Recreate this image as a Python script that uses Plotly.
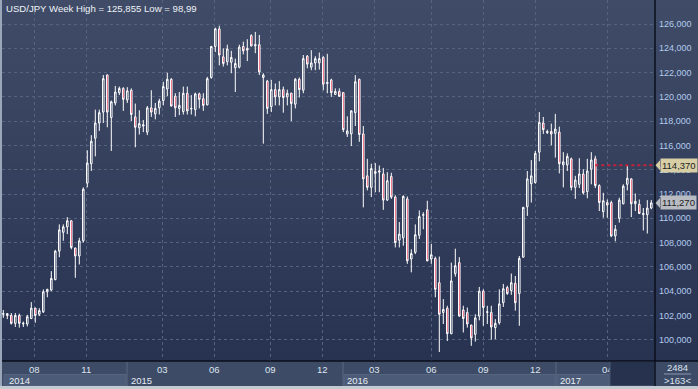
import plotly.graph_objects as go

# ---- weekly OHLC ----
open_ = [102.1, 102.15, 102.0, 101.35, 102.0, 101.3, 101.3, 101.75, 102.6, 102.1,
         102.3, 103.95, 104.1, 104.95, 107.3, 108.85, 109.3, 109.8, 107.55, 106.9,
         108.15, 112.9, 114.5, 116.6, 117.85, 118.75, 121.8, 118.3, 119.5, 120.35,
         120.7, 119.75, 120.55, 118.35, 117.45, 117.6, 117.1, 119.1, 118.6, 119.1,
         119.7, 120.65, 121.45, 120.05, 119.05, 118.8, 120.3, 119.0, 118.95, 120.25,
         119.85, 119.35, 121.6, 124.15, 125.6, 123.3, 122.9, 122.85, 122.4, 122.45,
         124.15, 124.0, 125.05, 124.2, 124.3, 121.6, 121.3, 119.2, 120.6, 120.0,
         120.6, 120.0, 120.3, 119.4, 121.45, 120.55, 123.35, 122.45, 122.8, 122.8,
         123.25, 121.1, 121.4, 120.2, 120.45, 120.35, 116.95, 116.95, 118.7, 121.45,
         116.95, 113.5, 112.55, 113.85, 113.8, 113.65, 111.5, 113.45, 111.75, 108.2,
         108.4, 111.6, 106.65, 107.2, 108.6, 110.25, 110.7, 106.65, 106.7, 104.7,
         102.25, 102.6, 100.5, 105.45, 106.35, 102.45, 102.25, 101.2, 100.45, 101.95,
         104.0, 102.25, 102.25, 101.0, 101.4, 103.05, 104.3, 104.05, 104.65, 103.8,
         106.8, 110.95, 112.85, 112.95, 115.45, 117.85, 117.05, 117.15, 117.0, 117.1,
         114.4, 114.4, 114.9, 112.55, 112.8, 113.65, 112.2, 114.05, 114.9, 112.7,
         110.55, 111.3, 111.3, 108.55, 110.0, 111.2, 112.8, 113.25, 111.2, 111.15,
         110.3, 110.3, 110.85]
high = [102.45, 102.2, 102.2, 102.2, 102.15, 101.5, 102.05, 103.1, 102.65, 102.6,
        104.15, 104.2, 105.65, 107.4, 109.5, 109.5, 110.1, 109.85, 107.6, 108.4,
        112.55, 115.6, 116.85, 118.95, 118.95, 121.8, 121.85, 119.7, 120.9, 120.85,
        120.8, 120.8, 120.7, 119.45, 118.9, 118.1, 119.25, 120.55, 119.5, 119.85,
        121.25, 122.0, 121.55, 120.3, 120.4, 120.85, 120.85, 120.15, 120.35, 120.35,
        120.3, 121.65, 124.2, 125.7, 125.855, 124.0, 124.3, 123.8, 123.15, 124.3,
        124.55, 124.75, 125.15, 125.35, 125.1, 121.95, 121.4, 121.4, 121.1, 121.3,
        120.85, 120.6, 120.35, 121.55, 121.6, 123.45, 123.45, 123.85, 123.35, 123.65,
        123.35, 123.55, 121.5, 120.7, 120.7, 120.4, 118.4, 118.9, 121.8, 121.5,
        117.6, 114.9, 114.5, 114.55, 114.35, 114.15, 113.8, 113.75, 111.9, 109.7,
        111.9, 111.8, 107.45, 109.5, 110.65, 110.5, 111.45, 107.9, 106.85, 106.85,
        103.35, 102.8, 106.35, 107.5, 106.8, 102.8, 102.65, 101.25, 102.1, 104.35,
        104.15, 102.8, 102.8, 101.7, 104.15, 104.6, 104.45, 105.45, 105.25, 106.9,
        110.95, 113.9, 114.8, 115.55, 118.75, 118.35, 117.3, 117.8, 118.6, 117.55,
        115.45, 115.35, 115.0, 113.5, 114.95, 114.05, 114.9, 115.45, 115.15, 112.8,
        112.1, 111.55, 111.45, 109.45, 111.7, 112.8, 114.37, 113.3, 112.05, 111.55,
        110.85, 111.5, 111.5]
low = [101.8, 101.7, 101.25, 101.05, 101.0, 101.05, 101.1, 101.7, 101.4, 101.95,
       102.2, 103.5, 104.0, 104.9, 106.8, 108.15, 108.7, 107.45, 105.1, 106.2,
       108.0, 112.55, 113.9, 115.1, 117.2, 117.85, 117.5, 115.55, 119.3, 120.15,
       118.85, 119.5, 118.0, 115.85, 116.9, 117.1, 116.85, 118.35, 118.15, 118.55,
       119.3, 120.05, 119.2, 118.35, 118.5, 118.55, 118.55, 118.55, 118.4, 119.05,
       118.85, 119.3, 121.5, 123.7, 122.6, 122.5, 122.6, 121.95, 120.4, 122.35,
       123.5, 122.95, 124.15, 123.6, 121.8, 116.15, 118.6, 118.75, 119.3, 119.3,
       118.7, 119.3, 118.0, 119.05, 119.95, 120.3, 122.35, 122.2, 122.2, 122.25,
       120.55, 120.3, 120.0, 120.15, 120.0, 117.1, 116.7, 115.95, 117.6, 116.3,
       110.9, 112.3, 111.75, 112.15, 112.15, 110.7, 111.45, 111.6, 107.6, 107.6,
       107.75, 106.25, 105.55, 107.05, 108.3, 109.1, 106.45, 106.25, 103.5, 98.99,
       101.3, 99.9, 100.45, 105.2, 101.9, 100.6, 101.0, 99.5, 99.85, 101.6,
       101.15, 101.3, 100.0, 100.05, 101.25, 102.7, 103.7, 103.7, 102.4, 101.15,
       106.75, 110.2, 111.3, 112.85, 114.7, 116.95, 116.95, 116.0, 115.0, 113.7,
       112.55, 113.9, 112.3, 111.6, 112.5, 111.95, 111.65, 112.8, 112.5, 110.6,
       110.05, 110.05, 108.45, 108.1, 109.65, 111.15, 112.3, 110.1, 110.6, 110.35,
       109.0, 108.75, 110.75]
close = [102.15, 102.0, 101.35, 102.0, 101.35, 101.35, 101.9, 102.6, 102.0, 102.4,
         103.95, 104.15, 105.05, 107.3, 109.05, 109.3, 109.8, 107.6, 106.9, 108.15,
         112.4, 114.55, 116.35, 117.85, 118.7, 121.5, 118.75, 119.6, 120.4, 120.7,
         119.8, 120.5, 118.55, 117.5, 117.8, 117.7, 119.1, 118.75, 119.05, 119.65,
         120.85, 121.45, 119.25, 119.1, 119.3, 120.3, 118.85, 119.05, 120.25, 119.8,
         119.3, 121.5, 124.15, 125.6, 123.45, 122.75, 123.95, 123.25, 122.75, 124.1,
         123.8, 123.85, 124.2, 124.3, 122.05, 121.8, 119.05, 120.6, 120.0, 120.6,
         119.95, 120.3, 119.45, 121.45, 120.6, 123.15, 122.7, 122.8, 123.15, 123.15,
         121.05, 121.2, 120.35, 120.45, 120.05, 117.3, 117.2, 118.85, 121.25, 116.9,
         113.25, 112.55, 114.1, 113.7, 113.9, 111.5, 113.1, 111.75, 108.0, 108.7,
         111.8, 106.5, 107.1, 108.65, 110.15, 110.3, 106.5, 107.0, 104.15, 102.1,
         102.5, 100.5, 104.85, 106.1, 101.95, 101.75, 101.3, 100.15, 101.8, 104.0,
         102.65, 102.3, 101.05, 101.35, 102.95, 104.2, 103.8, 104.7, 103.05, 106.7,
         110.9, 113.25, 113.5, 115.35, 117.9, 117.3, 117.15, 116.95, 117.35, 114.5,
         114.65, 115.1, 112.55, 113.15, 113.65, 112.1, 113.9, 114.8, 112.7, 111.3,
         111.45, 111.1, 108.55, 109.1, 111.5, 112.65, 113.3, 111.2, 111.4, 110.4,
         110.4, 110.85, 111.27]
week_index = list(range(len(close)))

month_tick_pos = [7.75, 20.75, 39.75, 52.75, 66.75, 79.75, 92.75, 107.0, 120.0, 133.0, 151.0]
month_tick_text = ['08', '11', '03', '06', '09', '12', '03', '06', '09', '12', '04']
year_labels = ['2014', '2015', '2016', '2017']
price_ticks = list(range(100, 127, 2))
price_tick_text = [f"{v},000" for v in price_ticks]
ref_level = max(high[150:])
last_close = close[-1]

W, H = 698, 389
ML, MR, MT, MB = 2, 43, 0, 28
PW, PH = W - ML - MR, H - MT - MB


def px(x):
    return (x - ML) / PW


def py(y):
    return 1 - (y - MT) / PH


def fmt(v):
    return f"{v:.3f}".replace('.', ',')


fig = go.Figure(go.Candlestick(
    x=week_index, open=open_, high=high, low=low, close=close,
    increasing=dict(line=dict(color='#ffffff', width=1), fillcolor='rgba(0,0,0,0)'),
    decreasing=dict(line=dict(color='#ffffff', width=1), fillcolor='#e3173f'),
    whiskerwidth=0, hoverinfo='skip', showlegend=False))

shapes = []
# background gradient
N = 40
top, bot = (64, 76, 103), (40, 51, 82)
for k in range(N):
    t = k / (N - 1)
    c = tuple(round(top[j] + (bot[j] - top[j]) * t) for j in range(3))
    shapes.append(dict(type='rect', xref='paper', yref='paper', layer='below',
                       x0=px(0), x1=px(W), y0=1 - k / N, y1=1 - (k + 1) / N - 0.002,
                       fillcolor='rgb(%d,%d,%d)' % c, line_width=0))
# bottom strip
shapes.append(dict(type='rect', xref='paper', yref='paper', layer='below',
                   x0=px(0), x1=px(W), y0=py(361), y1=py(386), fillcolor='#3d4b67', line_width=0))
for x0, x1 in [(4, 126), (344, 555), (557, 609)]:
    shapes.append(dict(type='rect', xref='paper', yref='paper', layer='below',
                       x0=px(x0), x1=px(x1), y0=py(374.5), y1=py(386), fillcolor='#4c5b77',
                       line=dict(color='#56657f', width=1)))
for xs in [127, 343, 556]:
    shapes.append(dict(type='line', xref='paper', yref='paper', layer='below',
                       x0=px(xs), x1=px(xs), y0=py(361), y1=py(386), line=dict(color='#5a6884', width=1)))
# scroll thumb region
shapes.append(dict(type='rect', xref='paper', yref='paper', layer='above',
                   x0=px(610), x1=px(655), y0=py(361.5), y1=py(386), fillcolor='#27324e',
                   line=dict(color='#4a5874', width=1)))
# borders
shapes.append(dict(type='rect', xref='paper', yref='paper', layer='above',
                   x0=px(0), x1=px(W), y0=py(386), y1=py(H), fillcolor='#c4cad2', line_width=0))
shapes.append(dict(type='rect', xref='paper', yref='paper', layer='above',
                   x0=px(0), x1=px(2), y0=py(0), y1=py(386), fillcolor='#9aa7ba', line_width=0))
shapes.append(dict(type='line', xref='paper', yref='paper', layer='above',
                   x0=px(2), x1=px(W), y0=py(361), y1=py(361), line=dict(color='#0a0f1a', width=1.5)))
shapes.append(dict(type='line', xref='paper', yref='paper', layer='above',
                   x0=px(655), x1=px(655), y0=py(0), y1=py(386), line=dict(color='#0a0f1a', width=1.5)))
# right-bottom box separator
shapes.append(dict(type='line', xref='paper', yref='paper', layer='above',
                   x0=px(664), x1=px(691), y0=py(374), y1=py(374), line=dict(color='#8a98b0', width=1)))
# reference level dotted line
shapes.append(dict(type='line', xref='x', yref='y', layer='above',
                   x0=148, x1=week_index[-1] + 0.9, y0=ref_level, y1=ref_level,
                   line=dict(color='#c8203a', width=2, dash='dot')))
# price label pointers
u = 5 / 12.14
for lvl, col in [(ref_level, '#d8cfa6'), (last_close, '#b8bcc2')]:
    shapes.append(dict(type='path', xref='paper', yref='y', layer='above',
                       path=f"M {px(655.5)} {lvl} L {px(660)} {lvl + u} L {px(660)} {lvl - u} Z",
                       fillcolor=col, line_width=0))

annotations = [
    dict(text='USD/JPY Week High = 125,855 Low = 98,99', xref='paper', yref='paper',
         x=px(4), y=py(9), xanchor='left', yanchor='middle', showarrow=False,
         font=dict(size=9.6, color='#eef2f8', family='Liberation Sans')),
    dict(text='2484', xref='paper', yref='paper', x=px(677), y=py(367.5), xanchor='center',
         yanchor='middle', showarrow=False, font=dict(size=9.5, color='#dbe3ee', family='Liberation Sans')),
    dict(text='>163<', xref='paper', yref='paper', x=px(677), y=py(380.5), xanchor='center',
         yanchor='middle', showarrow=False, font=dict(size=9.5, color='#dbe3ee', family='Liberation Sans')),
]
for lab, x in zip(year_labels, [7, 129, 345, 558]):
    annotations.append(dict(text=lab, xref='paper', yref='paper', x=px(x), y=py(380.5),
                            xanchor='left', yanchor='middle', showarrow=False,
                            font=dict(size=9.5, color='#e6ecf4', family='Liberation Sans')))
for lvl, col in [(ref_level, '#d8cfa6'), (last_close, '#b8bcc2')]:
    annotations.append(dict(text=fmt(lvl), xref='paper', yref='y', x=px(660), y=lvl,
                            xanchor='left', yanchor='middle', showarrow=False, bgcolor=col,
                            borderpad=1, font=dict(size=9.5, color='#222222', family='Liberation Sans')))

fig.update_layout(
    width=W, height=H, margin=dict(l=ML, r=MR, t=MT, b=MB),
    paper_bgcolor='#34405c', plot_bgcolor='rgba(0,0,0,0)', boxgap=0.45,
    shapes=shapes, annotations=annotations, hovermode=False,
    xaxis=dict(range=[-0.325, 162.925], rangeslider=dict(visible=False), tickvals=month_tick_pos,
               ticktext=month_tick_text, showgrid=True, gridcolor='#56637f', griddash='3px,3px',
               gridwidth=1, zeroline=False, showline=False, ticks='', ticklabelstandoff=1,
               tickfont=dict(size=9.5, color='#dfe6f0', family='Liberation Sans')),
    yaxis=dict(range=[98.25, 127.98], side='right', tickvals=price_ticks, ticktext=price_tick_text,
               showgrid=True, gridcolor='#56637f', griddash='3px,3px', gridwidth=1,
               zeroline=False, showline=False, ticks='', ticklabelstandoff=3,
               tickfont=dict(size=9, color='#b3cbee', family='Liberation Sans')),
)

fig.write_html("out.html", config={'displayModeBar': False, 'staticPlot': True},
               post_script="document.body.style.margin='0';document.body.style.overflow='hidden';")
